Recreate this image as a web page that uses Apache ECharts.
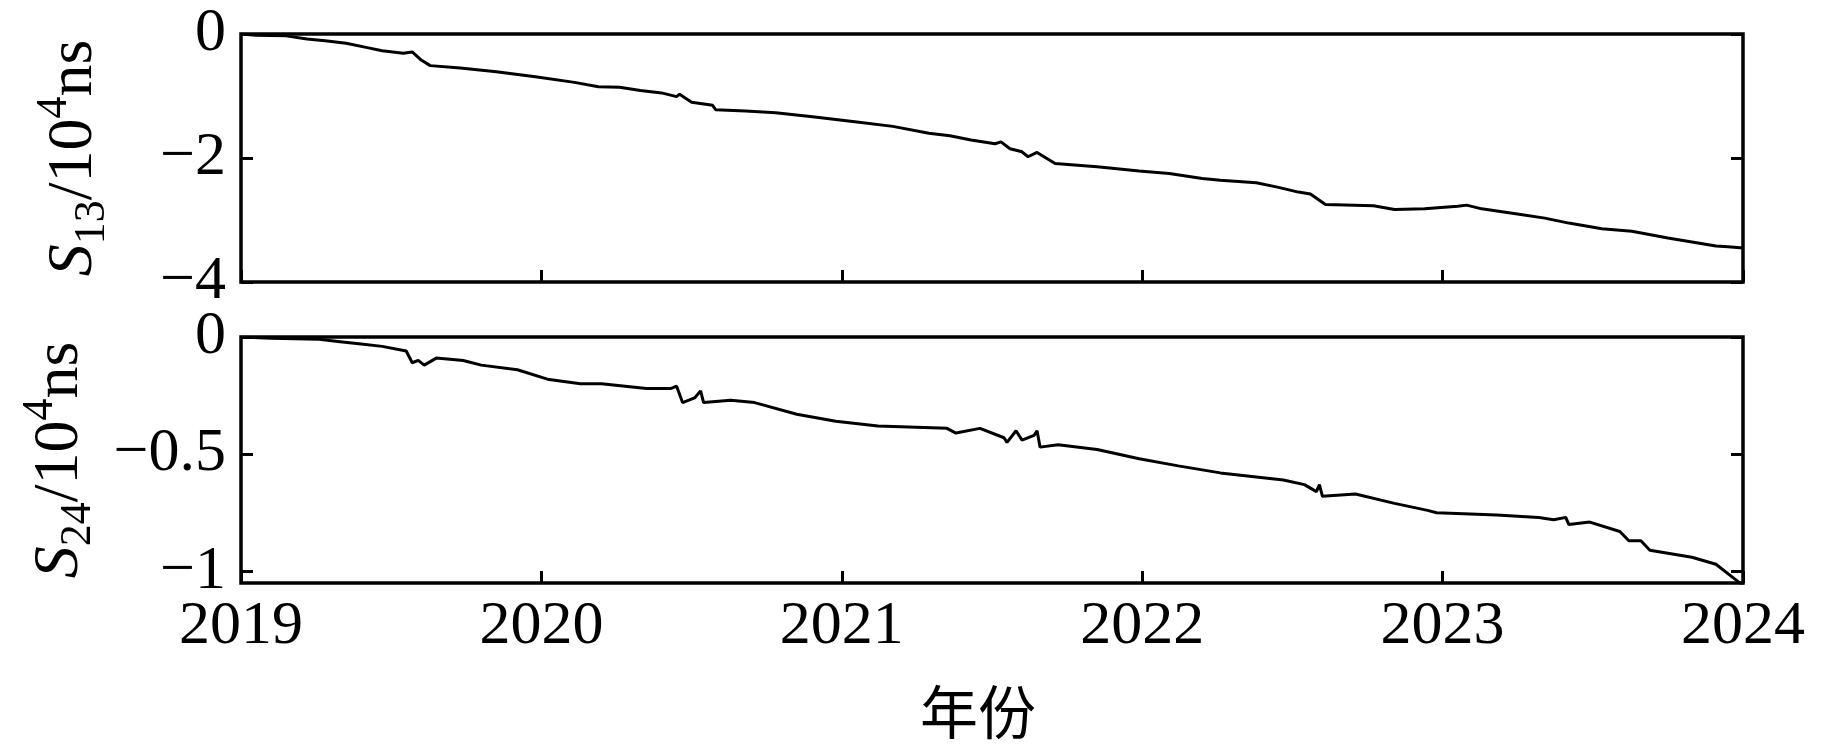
<!DOCTYPE html>
<html>
<head>
<meta charset="utf-8">
<script src="https://cdn.jsdelivr.net/npm/echarts@6/dist/echarts.min.js"></script>
<style>
html,body{margin:0;padding:0;background:#fff;}
#chart{width:1843px;height:756px;}
</style>
</head>
<body>
<div id="chart"></div>
<script>
// x ticks (years)
const yearTicks = [2019, 2020, 2021, 2022, 2023, 2024];
// top panel y ticks
const s13Ticks = [0, -2, -4];
// bottom panel y ticks
const s24Ticks = [0, -0.5, -1];

// S13 series (time in decimal years, value in 10^4 ns)
const t13 = [2019.00, 2019.05, 2019.15, 2019.22, 2019.28, 2019.35, 2019.42, 2019.47, 2019.54, 2019.57, 2019.60, 2019.63, 2019.73, 2019.85, 2019.98, 2020.11, 2020.19, 2020.26, 2020.33, 2020.40, 2020.45, 2020.46, 2020.50, 2020.57, 2020.58, 2020.68, 2020.78, 2020.91, 2021.05, 2021.17, 2021.29, 2021.36, 2021.43, 2021.51, 2021.53, 2021.56, 2021.60, 2021.62, 2021.65, 2021.68, 2021.71, 2021.85, 2021.99, 2022.09, 2022.20, 2022.26, 2022.38, 2022.45, 2022.52, 2022.56, 2022.61, 2022.77, 2022.84, 2022.94, 2023.05, 2023.08, 2023.13, 2023.26, 2023.34, 2023.42, 2023.53, 2023.63, 2023.75, 2023.85, 2023.91, 2023.95, 2024.00];
const s13 = [0.00, -0.02, -0.03, -0.08, -0.11, -0.15, -0.22, -0.27, -0.31, -0.29, -0.42, -0.51, -0.55, -0.61, -0.69, -0.78, -0.85, -0.86, -0.91, -0.95, -1.01, -0.97, -1.10, -1.15, -1.22, -1.24, -1.27, -1.34, -1.42, -1.49, -1.60, -1.64, -1.71, -1.77, -1.74, -1.85, -1.90, -1.98, -1.91, -2.00, -2.09, -2.14, -2.21, -2.25, -2.33, -2.36, -2.40, -2.47, -2.55, -2.58, -2.75, -2.77, -2.83, -2.82, -2.78, -2.76, -2.82, -2.91, -2.97, -3.05, -3.14, -3.18, -3.29, -3.37, -3.42, -3.43, -3.45];

// S24 series
const t24 = [2019.00, 2019.10, 2019.26, 2019.33, 2019.40, 2019.47, 2019.55, 2019.57, 2019.59, 2019.61, 2019.65, 2019.74, 2019.80, 2019.92, 2020.02, 2020.13, 2020.20, 2020.35, 2020.43, 2020.45, 2020.47, 2020.51, 2020.53, 2020.54, 2020.63, 2020.71, 2020.85, 2020.98, 2021.12, 2021.35, 2021.38, 2021.46, 2021.54, 2021.55, 2021.58, 2021.60, 2021.64, 2021.65, 2021.66, 2021.72, 2021.85, 2021.99, 2022.12, 2022.26, 2022.47, 2022.54, 2022.58, 2022.59, 2022.60, 2022.71, 2022.84, 2022.95, 2022.98, 2023.18, 2023.32, 2023.37, 2023.41, 2023.42, 2023.49, 2023.59, 2023.62, 2023.66, 2023.69, 2023.83, 2023.91, 2023.97, 2024.00];
const s24 = [0.00, -0.005, -0.01, -0.02, -0.03, -0.04, -0.06, -0.11, -0.10, -0.12, -0.09, -0.10, -0.12, -0.14, -0.18, -0.20, -0.20, -0.22, -0.22, -0.21, -0.28, -0.26, -0.23, -0.28, -0.27, -0.28, -0.33, -0.36, -0.38, -0.39, -0.41, -0.39, -0.43, -0.45, -0.40, -0.44, -0.42, -0.40, -0.47, -0.46, -0.48, -0.52, -0.55, -0.58, -0.61, -0.63, -0.66, -0.63, -0.68, -0.67, -0.71, -0.74, -0.75, -0.76, -0.77, -0.78, -0.77, -0.80, -0.79, -0.83, -0.87, -0.87, -0.91, -0.94, -0.97, -1.03, -1.06];

const FONT = 'Liberation Serif';
const minusFmt = v => (v < 0 ? '\u2212' + String(Math.abs(v)) : String(v));

function titleRich() {
  return {
    s: {fontFamily: FONT, fontStyle: 'italic', fontSize: 64, lineHeight: 64, color: '#000'},
    m: {fontFamily: FONT, fontSize: 64, lineHeight: 64, color: '#000'},
    sub: {fontFamily: FONT, fontSize: 44, lineHeight: 44, padding: [36, 0, 0, 0], color: '#000'},
    sup: {fontFamily: FONT, fontSize: 44, lineHeight: 44, padding: [0, 0, 40, 0], color: '#000'}
  };
}

const grids = [
  {left: 241, right: 100, top: 34, height: 248, show: true, borderColor: '#000', borderWidth: 3.5, backgroundColor: 'transparent'},
  {left: 241, right: 100, top: 337, height: 246, show: true, borderColor: '#000', borderWidth: 3.5, backgroundColor: 'transparent'}
];

function xAxisCfg(gi, withLabels) {
  return {
    type: 'value', gridIndex: gi, position: 'bottom', min: yearTicks[0], max: yearTicks[yearTicks.length - 1], interval: 1,
    axisLine: {show: false, onZero: false},
    axisTick: {show: true, inside: true, length: 12, lineStyle: {color: '#000', width: 3}},
    splitLine: {show: false},
    axisLabel: withLabels ? {show: true, fontFamily: FONT, fontSize: 62, color: '#000', margin: 13, formatter: v => String(v)} : {show: false},
    name: withLabels ? '年份' : '',
    nameLocation: 'middle',
    nameGap: 100,
    nameTextStyle: {fontFamily: 'Noto Sans CJK SC', fontSize: 58, color: '#000', padding: [0, 28, 0, 0]}
  };
}

function yAxisCfg(gi, ticks, mn, mx, pos, name) {
  const left = pos === 'left';
  return {
    type: 'value', gridIndex: gi, position: pos, min: mn, max: mx,
    axisLine: {show: false, onZero: false},
    splitLine: {show: false},
    axisTick: {show: true, inside: true, length: 12, customValues: ticks, lineStyle: {color: '#000', width: 3}},
    axisLabel: left ? {show: true, customValues: ticks, fontFamily: FONT, fontSize: 62, color: '#000', margin: 15, formatter: minusFmt} : {show: false},
    name: left ? name : '',
    nameLocation: 'middle',
    nameRotate: 90,
    nameGap: 135,
    nameTextStyle: {rich: titleRich()}
  };
}

const option = {
  animation: false,
  backgroundColor: '#fff',
  grid: grids,
  xAxis: [xAxisCfg(0, false), xAxisCfg(1, true)],
  yAxis: [
    yAxisCfg(0, s13Ticks, -4, 0, 'left', '{s|S}{sub|13}{m|/10}{sup|4}{m|ns}'),
    yAxisCfg(1, s24Ticks, -1.05, 0, 'left', '{s|S}{sub|24}{m|/10}{sup|4}{m|ns}'),
    yAxisCfg(0, s13Ticks, -4, 0, 'right', ''),
    yAxisCfg(1, s24Ticks, -1.05, 0, 'right', '')
  ],
  series: [
    {type: 'line', xAxisIndex: 0, yAxisIndex: 0, showSymbol: false, symbol: 'none', clip: true,
     lineStyle: {color: '#000', width: 3}, data: t13.map((t, i) => [t, s13[i]])},
    {type: 'line', xAxisIndex: 1, yAxisIndex: 1, showSymbol: false, symbol: 'none', clip: true,
     lineStyle: {color: '#000', width: 3}, data: t24.map((t, i) => [t, s24[i]])}
  ]
};

const chart = echarts.init(document.getElementById('chart'), null, {renderer: 'canvas'});
chart.setOption(option);
</script>
</body>
</html>
